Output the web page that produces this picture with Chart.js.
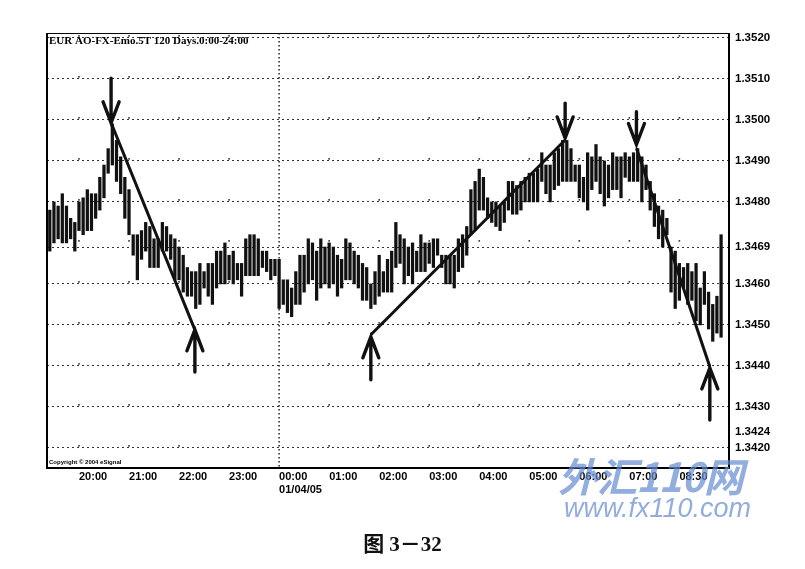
<!DOCTYPE html>
<html>
<head>
<meta charset="utf-8">
<script src="https://cdn.jsdelivr.net/npm/chart.js@4"></script>
<style>
  body { margin: 0; background: #fff; }
  #wrap { position: relative; width: 805px; height: 569px; }
  #caption {
    position: absolute; left: 0; width: 805px; top: 527px; text-align: center;
    font: bold 21px "Liberation Serif", "Noto Sans CJK SC", serif; color: #111;
  }
  .wm1 {
    position: absolute; left: 558px; top: 446px; font: italic bold 40px "Noto Sans CJK SC", sans-serif;
    color: rgba(100, 140, 210, 0.7); letter-spacing: -1px; pointer-events: none;
  }
  .wm2 {
    position: absolute; left: 564px; top: 493px; font: italic 27px "Liberation Sans", sans-serif;
    color: rgba(110, 145, 210, 0.75); pointer-events: none;
  }
</style>
</head>
<body>
<div id="wrap">
  <canvas id="myChart" width="805" height="569"></canvas>
  <div class="wm1">外汇110网</div>
  <div class="wm2">www.fx110.com</div>
  <div id="caption">图 3－32</div>
</div>
<script>
// 5 minute bars, 19:25 .. 08:50
var highs = [
  1.3478, 1.3480, 1.3479, 1.3482, 1.3479, 1.3476, 1.3475, 1.3480, 1.3481, 1.3483,
  1.3482, 1.3482, 1.3486, 1.3489, 1.3493, 1.3499, 1.3495, 1.3491, 1.3486, 1.3483,
  1.3472, 1.3472, 1.3473, 1.3475, 1.3474, 1.3471, 1.3471, 1.3475, 1.3474, 1.3472,
  1.3471, 1.3469, 1.3467, 1.3464, 1.3463, 1.3463, 1.3465, 1.3463, 1.3465, 1.3465,
  1.3468, 1.3468, 1.3470, 1.3467, 1.3468, 1.3465, 1.3465, 1.3471, 1.3472, 1.3472,
  1.3471, 1.3468, 1.3468, 1.3466, 1.3466, 1.3466, 1.3461, 1.3461, 1.3459, 1.3463,
  1.3467, 1.3467, 1.3471, 1.3470, 1.3468, 1.3471, 1.3469, 1.3470, 1.3469, 1.3467,
  1.3466, 1.3471, 1.3470, 1.3468, 1.3467, 1.3465, 1.3464, 1.3460, 1.3463, 1.3467,
  1.3463, 1.3466, 1.3468, 1.3475, 1.3472, 1.3471, 1.3469, 1.3470, 1.3468, 1.3472,
  1.3470, 1.3470, 1.3471, 1.3471, 1.3467, 1.3467, 1.3467, 1.3467, 1.3471, 1.3472,
  1.3474, 1.3483, 1.3485, 1.3488, 1.3486, 1.3481, 1.3480, 1.3480, 1.3479, 1.3480,
  1.3485, 1.3485, 1.3484, 1.3485, 1.3486, 1.3487, 1.3487, 1.3488, 1.3492, 1.3489,
  1.3489, 1.3492, 1.3493, 1.3495, 1.3495, 1.3493, 1.3489, 1.3489, 1.3486, 1.3492,
  1.3491, 1.3494, 1.3491, 1.3490, 1.3489, 1.3492, 1.3491, 1.3491, 1.3492, 1.3491,
  1.3492, 1.3493, 1.3491, 1.3489, 1.3485, 1.3482, 1.3479, 1.3478, 1.3476, 1.3469,
  1.3468, 1.3465, 1.3464, 1.3465, 1.3463, 1.3465, 1.3459, 1.3463, 1.3458, 1.3455,
  1.3457, 1.3472
];
var lows = [
  1.3468, 1.3470, 1.3471, 1.3470, 1.3470, 1.3471, 1.3468, 1.3473, 1.3472, 1.3473,
  1.3473, 1.3476, 1.3478, 1.3481, 1.3487, 1.3489, 1.3485, 1.3482, 1.3476, 1.3472,
  1.3467, 1.3461, 1.3466, 1.3468, 1.3464, 1.3464, 1.3464, 1.3468, 1.3468, 1.3466,
  1.3461, 1.3461, 1.3458, 1.3457, 1.3457, 1.3454, 1.3455, 1.3459, 1.3457, 1.3455,
  1.3459, 1.3460, 1.3460, 1.3461, 1.3460, 1.3461, 1.3457, 1.3462, 1.3462, 1.3462,
  1.3462, 1.3464, 1.3463, 1.3461, 1.3462, 1.3454, 1.3455, 1.3453, 1.3452, 1.3455,
  1.3455, 1.3458, 1.3460, 1.3461, 1.3456, 1.3459, 1.3460, 1.3459, 1.3460, 1.3457,
  1.3459, 1.3461, 1.3461, 1.3460, 1.3459, 1.3456, 1.3456, 1.3454, 1.3455, 1.3457,
  1.3458, 1.3458, 1.3458, 1.3464, 1.3465, 1.3460, 1.3462, 1.3460, 1.3463, 1.3463,
  1.3463, 1.3465, 1.3464, 1.3467, 1.3464, 1.3460, 1.3460, 1.3459, 1.3463, 1.3464,
  1.3467, 1.3472, 1.3473, 1.3478, 1.3478, 1.3476, 1.3475, 1.3474, 1.3473, 1.3475,
  1.3478, 1.3477, 1.3477, 1.3478, 1.3480, 1.3480, 1.3480, 1.3480, 1.3485, 1.3482,
  1.3480, 1.3483, 1.3484, 1.3485, 1.3485, 1.3485, 1.3485, 1.3481, 1.3480, 1.3478,
  1.3483, 1.3485, 1.3482, 1.3479, 1.3481, 1.3483, 1.3483, 1.3481, 1.3486, 1.3485,
  1.3485, 1.3485, 1.3480, 1.3483, 1.3478, 1.3474, 1.3471, 1.3469, 1.3472, 1.3458,
  1.3454, 1.3456, 1.3459, 1.3455, 1.3456, 1.3451, 1.3450, 1.3455, 1.3449, 1.3446,
  1.3448, 1.3447
];

// hour marks on the time axis (bar index) and their labels
var hourTicks = [7, 19, 31, 43, 55, 67, 79, 91, 103, 115, 127, 139, 151];
var hourLabels = ['20:00', '21:00', '22:00', '23:00', ['00:00', '01/04/05'], '01:00', '02:00',
                  '03:00', '04:00', '05:00', '06:00', '07:00', '08:30'];
var dayBreak = 55;

// price axis labels
var priceTicks = [1.3420, 1.3424, 1.3430, 1.3440, 1.3450, 1.3460, 1.3469, 1.3480, 1.3490, 1.3500, 1.3510, 1.3520];

// hand drawn trend lines (bar index, price)
var trendStartX = [14.7, 77.0, 140.7];
var trendStartY = [1.34993, 1.34476, 1.34931];
var trendEndX = [34.8, 123.6, 158.3];
var trendEndY = [1.34488, 1.34951, 1.34398];

// arrows: tip and tail price at a bar index
var arrowX = [14.7, 34.8, 77.0, 123.6, 140.7, 158.3];
var arrowTip = [1.34993, 1.34488, 1.34471, 1.34956, 1.34940, 1.34395];
var arrowTail = [1.35102, 1.34385, 1.34366, 1.35041, 1.35020, 1.34268];

var chartTitle = 'EUR AO-FX-Emo.5T 120 Days.0:00-24:00';
var copyright = 'Copyright \u00a9 2004 eSignal';

var bars = highs.map(function (h, i) { return { x: i, y: [lows[i], h] }; });

var datasets = [{
    type: 'bar',
    data: bars,
    backgroundColor: '#111',
    barThickness: 2.6,
    borderWidth: 0
}];
for (var k = 0; k < trendStartX.length; k++) {
    datasets.push({
        type: 'line',
        data: [{ x: trendStartX[k], y: trendStartY[k] }, { x: trendEndX[k], y: trendEndY[k] }],
        borderColor: '#111',
        borderWidth: 3,
        pointRadius: 0,
        tension: 0
    });
}

const decorations = {
    id: 'decorations',
    beforeDatasetsDraw(chart) {
        const { ctx, chartArea: a, scales: { x, y } } = chart;
        ctx.save();
        ctx.fillStyle = '#333';
        hourTicks.forEach(function (t) {
            const px = x.getPixelForValue(t);
            if (t === dayBreak) {
                ctx.strokeStyle = '#222';
                ctx.lineWidth = 1.5;
                ctx.setLineDash([1.5, 2.5]);
                ctx.beginPath();
                ctx.moveTo(px, a.top);
                ctx.lineTo(px, a.bottom);
                ctx.stroke();
            } else {
                // sparse dotted hour lines, one dot between price lines
                for (let p = 1.34205; p < 1.3521; p += 0.001) {
                    const py = y.getPixelForValue(p);
                    ctx.fillRect(px - 0.8, py - 0.8, 1.6, 1.6);
                }
            }
        });
        ctx.restore();
    },
    afterDraw(chart) {
        const { ctx, chartArea: a } = chart;
        ctx.save();
        ctx.strokeStyle = '#000';
        ctx.lineWidth = 2;
        ctx.beginPath();
        ctx.moveTo(a.left, a.top);
        ctx.lineTo(a.left, a.bottom);
        ctx.lineTo(a.right, a.bottom);
        ctx.lineTo(a.right, a.top);
        ctx.stroke();
        ctx.lineWidth = 1;
        ctx.beginPath();
        ctx.moveTo(a.left, a.top + 0.5);
        ctx.lineTo(a.right, a.top + 0.5);
        ctx.stroke();

        ctx.fillStyle = '#000';
        ctx.font = 'bold 11px "Liberation Serif"';
        ctx.textBaseline = 'top';
        ctx.fillText(chartTitle, a.left + 2, a.top + 3);
        ctx.font = 'bold 6px "Liberation Sans"';
        ctx.textBaseline = 'bottom';
        ctx.fillText(copyright, a.left + 2, a.bottom - 3);

        // arrows
        const { x, y } = chart.scales;
        ctx.strokeStyle = '#111';
        ctx.lineWidth = 3.4;
        ctx.lineCap = 'round';
        for (let i = 0; i < arrowX.length; i++) {
            const px = x.getPixelForValue(arrowX[i]);
            const tip = y.getPixelForValue(arrowTip[i]);
            const tail = y.getPixelForValue(arrowTail[i]);
            const dir = tail < tip ? -1 : 1;
            ctx.beginPath();
            ctx.moveTo(px, tail);
            ctx.lineTo(px, tip);
            ctx.moveTo(px - 8, tip + dir * 21);
            ctx.lineTo(px, tip);
            ctx.lineTo(px + 8, tip + dir * 21);
            ctx.stroke();
        }
        ctx.restore();
    }
};

new Chart(document.getElementById('myChart'), {
    type: 'bar',
    data: { datasets: datasets },
    options: {
        responsive: false,
        animation: false,
        layout: { padding: { left: 47, top: 33, right: 0, bottom: 61 } },
        plugins: {
            legend: { display: false },
            tooltip: { enabled: false }
        },
        scales: {
            x: {
                type: 'linear',
                offset: false,
                min: -0.67,
                max: 162.9,
                afterBuildTicks: function (s) { s.ticks = hourTicks.map(function (v) { return { value: v }; }); },
                afterFit: function (s) { s.height = 40; },
                grid: { display: false, drawTicks: false, offset: false },
                border: { display: false },
                ticks: {
                    autoSkip: false,
                    maxRotation: 0,
                    align: 'start',
                    padding: 2,
                    color: '#000',
                    font: { family: 'Liberation Sans', size: 11, weight: 'bold' },
                    callback: function (v, i) { return hourLabels[i]; }
                }
            },
            y: {
                position: 'right',
                min: 1.34151,
                max: 1.35212,
                afterBuildTicks: function (s) { s.ticks = priceTicks.map(function (v) { return { value: v }; }); },
                afterFit: function (s) { s.width = 76; },
                grid: {
                    drawTicks: false,
                    lineWidth: 1,
                    color: function (c) { return c.tick && c.tick.value === 1.3424 ? 'rgba(0,0,0,0)' : '#333'; }
                },
                border: { display: false, dash: [2, 3] },
                ticks: {
                    autoSkip: false,
                    padding: 6,
                    color: '#000',
                    font: { family: 'Liberation Sans', size: 11.5, weight: 'bold' },
                    callback: function (v) { return v.toFixed(4); }
                }
            }
        }
    },
    plugins: [decorations]
});
</script>
</body>
</html>
